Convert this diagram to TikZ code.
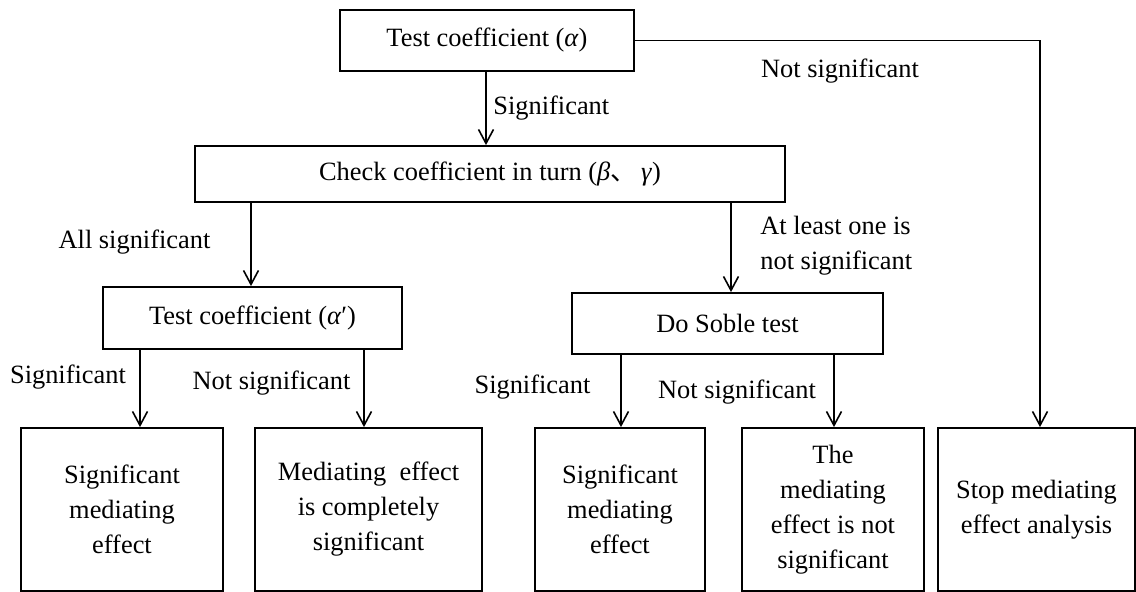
\documentclass[tikz,border=0pt]{standalone}
\usepackage{fontspec}
\setmainfont{Liberation Serif}
\newfontfamily\cjk{Noto Sans CJK SC}
\usetikzlibrary{arrows.meta,calc}
\tikzset{
  box/.style={draw, line width=0.9pt, rectangle, inner sep=0pt, align=center,
    font=\fontsize{13.2pt}{17.5pt}\selectfont},
  lbl/.style={inner sep=0pt, align=center, font=\fontsize{13.2pt}{17.5pt}\selectfont},
  arr/.style={line width=0.8pt, -{Straight Barb[length=7pt,width=7.5pt,line width=0.8pt]}},
  conn/.style={line width=0.8pt}
}
\begin{document}
\begin{tikzpicture}[x=0.5pt,y=-0.5pt]
\useasboundingbox (0,0) rectangle (1136,592);
% boxes
\node[box, minimum width=147pt, minimum height=30.5pt] (t1) at (487,40.5) {Test coefficient (\textit{α})};
\node[box, minimum width=295pt, minimum height=28pt] (b2) at (490,174) {Check coefficient in turn (\textit{β}{\cjk 、}\,\textit{γ})};
\node[box, minimum width=149.5pt, minimum height=31pt] (b3) at (252.5,318) {Test coefficient (\textit{α}′)};
\node[box, minimum width=155.5pt, minimum height=30.5pt] (sob) at (727.5,323.5) {Do Soble test};
\node[box, minimum width=101pt, minimum height=81.5pt] (ba) at (122,509.5) {Significant\\mediating\\effect};
\node[box, minimum width=113.5pt, minimum height=81.5pt] (bb) at (368.5,509.5) {Mediating\ \ effect\\is completely\\significant};
\node[box, minimum width=85pt, minimum height=81.5pt] (bc) at (620,509.5) {Significant\\mediating\\effect};
\node[box, minimum width=91pt, minimum height=81.5pt] (bd) at (833,509.5) {The\\mediating\\effect is not\\significant};
\node[box, minimum width=98.5pt, minimum height=81.5pt] (be) at (1036.5,509.5) {Stop mediating\\effect analysis};
% arrow end coordinates
\coordinate (aA) at ([xshift=9pt]ba.north);
\coordinate (aB) at ([xshift=-2.25pt]bb.north);
\coordinate (aC) at ([xshift=0.5pt]bc.north);
\coordinate (aD) at ([xshift=0.5pt]bd.north);
\coordinate (aE) at ([xshift=1.75pt]be.north);
\coordinate (a2) at ([xshift=-0.5pt]t1.south);
\coordinate (a3) at ([xshift=-0.75pt]b3.north);
\coordinate (aS) at ([xshift=1.75pt]sob.north);
% connectors
\draw[arr] (a2) -- (a2 |- b2.north);
\draw[arr] (a3 |- b2.south) -- (a3);
\draw[arr] (aS |- b2.south) -- (aS);
\draw[arr] (aA |- b3.south) -- (aA);
\draw[arr] (aB |- b3.south) -- (aB);
\draw[arr] (aC |- sob.south) -- (aC);
\draw[arr] (aD |- sob.south) -- (aD);
\draw[arr] (t1.east) -| (aE);
% labels
\node[lbl, anchor=west] (l1) at (493,108) {Significant};
\node[lbl] (l2) at (840,71) {Not significant};
\node[lbl] (l3) at (134.5,242) {All significant};
\node[lbl, anchor=west, align=left] (l4) at (760,245.5) {At least one is\\not significant};
\node[lbl] (l5) at (68,377) {Significant};
\node[lbl] (l6) at (271.5,383) {Not significant};
\node[lbl] (l7) at (532.5,387) {Significant};
\node[lbl] (l8) at (737,392) {Not significant};
\end{tikzpicture}
\end{document}
